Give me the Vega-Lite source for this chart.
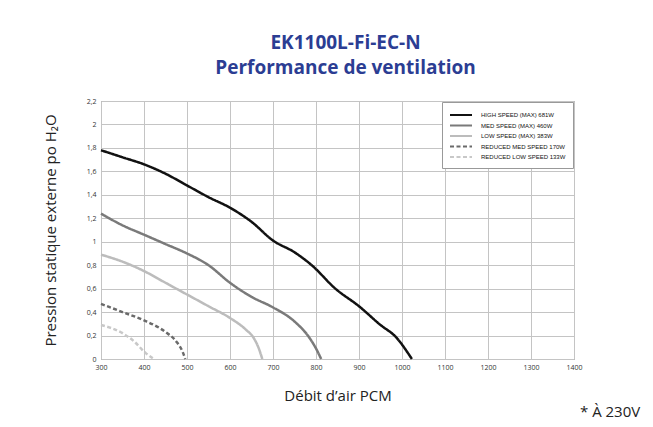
{
  "$schema": "https://vega.github.io/schema/vega-lite/v6.json",
  "width": 473,
  "height": 258,
  "autosize": {"type": "none"},
  "padding": {"left": 101, "top": 101, "right": 79, "bottom": 68},
  "background": "white",
  "title": {
    "text": ["EK1100L-Fi-EC-N", "Performance de ventilation"],
    "font": "Open Sans",
    "fontSize": 19,
    "fontWeight": "bold",
    "color": "#2b3d93",
    "anchor": "middle",
    "dx": 8,
    "offset": 19,
    "lineHeight": 25
  },
  "config": {
    "font": "Open Sans",
    "view": {"stroke": "#8a8a8a", "strokeWidth": 1},
    "axis": {"domain": false, "ticks": false, "labelFontSize": 7, "labelColor": "#333", "labelOverlap": false, "titleFont": "Open Sans", "titleFontWeight": "normal", "titleFontSize": 15, "titleColor": "#222"},
    "axisX": {
      "title": "Débit d’air PCM",
      "titlePadding": 18,
      "format": "d",
      "values": [300,350,400,450,500,550,600,650,700,750,800,850,900,950,1000,1050,1100,1150,1200,1250,1300,1350,1400],
      "labelExpr": "datum.value % 100 === 0 ? datum.label : ''",
      "labelPadding": 4,
      "labelFlush": false,
      "gridColor": {"condition": {"test": "datum.value % 100 === 0", "value": "#c4c4c4"}, "value": "#e4e4e4"}
    },
    "axisY": {
      "titlePadding": 28,
      "values": [0,0.1,0.2,0.3,0.4,0.5,0.6,0.7,0.8,0.9,1,1.1,1.2,1.3,1.4,1.5,1.6,1.7,1.8,1.9,2,2.1,2.2],
      "labelExpr": "round(datum.value*10) % 2 === 0 ? replace(format(datum.value, '.1~f'), '.', ',') : ''",
      "labelPadding": 5,
      "labelFlush": false,
      "gridColor": {"condition": {"test": "round(datum.value*10) % 2 === 0", "value": "#c4c4c4"}, "value": "#e4e4e4"}
    }
  },
  "layer": [
    {
      "data": {
        "values": [
          {"s": "HIGH SPEED (MAX) 681W", "x": 300, "y": 1.78},
          {"s": "HIGH SPEED (MAX) 681W", "x": 350, "y": 1.72},
          {"s": "HIGH SPEED (MAX) 681W", "x": 400, "y": 1.66},
          {"s": "HIGH SPEED (MAX) 681W", "x": 450, "y": 1.58},
          {"s": "HIGH SPEED (MAX) 681W", "x": 500, "y": 1.48},
          {"s": "HIGH SPEED (MAX) 681W", "x": 550, "y": 1.38},
          {"s": "HIGH SPEED (MAX) 681W", "x": 600, "y": 1.29},
          {"s": "HIGH SPEED (MAX) 681W", "x": 650, "y": 1.17},
          {"s": "HIGH SPEED (MAX) 681W", "x": 700, "y": 1.01},
          {"s": "HIGH SPEED (MAX) 681W", "x": 750, "y": 0.91},
          {"s": "HIGH SPEED (MAX) 681W", "x": 790, "y": 0.8},
          {"s": "HIGH SPEED (MAX) 681W", "x": 845, "y": 0.6},
          {"s": "HIGH SPEED (MAX) 681W", "x": 900, "y": 0.45},
          {"s": "HIGH SPEED (MAX) 681W", "x": 950, "y": 0.29},
          {"s": "HIGH SPEED (MAX) 681W", "x": 985, "y": 0.19},
          {"s": "HIGH SPEED (MAX) 681W", "x": 1023, "y": 0},
          {"s": "MED SPEED (MAX) 460W", "x": 300, "y": 1.24},
          {"s": "MED SPEED (MAX) 460W", "x": 350, "y": 1.14},
          {"s": "MED SPEED (MAX) 460W", "x": 400, "y": 1.06},
          {"s": "MED SPEED (MAX) 460W", "x": 450, "y": 0.98},
          {"s": "MED SPEED (MAX) 460W", "x": 500, "y": 0.9},
          {"s": "MED SPEED (MAX) 460W", "x": 550, "y": 0.8},
          {"s": "MED SPEED (MAX) 460W", "x": 600, "y": 0.65},
          {"s": "MED SPEED (MAX) 460W", "x": 650, "y": 0.53},
          {"s": "MED SPEED (MAX) 460W", "x": 700, "y": 0.44},
          {"s": "MED SPEED (MAX) 460W", "x": 750, "y": 0.32},
          {"s": "MED SPEED (MAX) 460W", "x": 783, "y": 0.19},
          {"s": "MED SPEED (MAX) 460W", "x": 800, "y": 0.09},
          {"s": "MED SPEED (MAX) 460W", "x": 812, "y": 0},
          {"s": "LOW SPEED (MAX) 383W", "x": 300, "y": 0.89},
          {"s": "LOW SPEED (MAX) 383W", "x": 350, "y": 0.83},
          {"s": "LOW SPEED (MAX) 383W", "x": 400, "y": 0.75},
          {"s": "LOW SPEED (MAX) 383W", "x": 450, "y": 0.65},
          {"s": "LOW SPEED (MAX) 383W", "x": 500, "y": 0.55},
          {"s": "LOW SPEED (MAX) 383W", "x": 550, "y": 0.45},
          {"s": "LOW SPEED (MAX) 383W", "x": 600, "y": 0.35},
          {"s": "LOW SPEED (MAX) 383W", "x": 637, "y": 0.25},
          {"s": "LOW SPEED (MAX) 383W", "x": 655, "y": 0.18},
          {"s": "LOW SPEED (MAX) 383W", "x": 668, "y": 0.08},
          {"s": "LOW SPEED (MAX) 383W", "x": 675, "y": 0},
          {"s": "REDUCED MED SPEED 170W", "x": 300, "y": 0.47},
          {"s": "REDUCED MED SPEED 170W", "x": 350, "y": 0.4},
          {"s": "REDUCED MED SPEED 170W", "x": 400, "y": 0.33},
          {"s": "REDUCED MED SPEED 170W", "x": 450, "y": 0.23},
          {"s": "REDUCED MED SPEED 170W", "x": 475, "y": 0.15},
          {"s": "REDUCED MED SPEED 170W", "x": 490, "y": 0.06},
          {"s": "REDUCED MED SPEED 170W", "x": 496, "y": 0},
          {"s": "REDUCED LOW SPEED 133W", "x": 300, "y": 0.29},
          {"s": "REDUCED LOW SPEED 133W", "x": 350, "y": 0.22},
          {"s": "REDUCED LOW SPEED 133W", "x": 377, "y": 0.15},
          {"s": "REDUCED LOW SPEED 133W", "x": 404, "y": 0.05},
          {"s": "REDUCED LOW SPEED 133W", "x": 423, "y": 0}
        ]
      },
      "mark": {"type": "line", "interpolate": "monotone", "strokeWidth": 2.5},
      "encoding": {
        "x": {
          "field": "x", "type": "quantitative",
          "scale": {"domain": [300, 1400], "nice": false, "zero": false},
          "axis": {"title": "Débit d’air PCM"}
        },
        "y": {
          "field": "y", "type": "quantitative",
          "scale": {"domain": [0, 2.2], "nice": false},
          "axis": {"title": "Pression statique externe po H₂O"}
        },
        "color": {
          "field": "s", "type": "nominal",
          "scale": {
            "domain": ["HIGH SPEED (MAX) 681W", "MED SPEED (MAX) 460W", "LOW SPEED (MAX) 383W", "REDUCED MED SPEED 170W", "REDUCED LOW SPEED 133W"],
            "range": ["#111111", "#7a7a7a", "#bcbcbc", "#6a6a6a", "#c8c8c8"]
          },
          "legend": {
            "title": null, "orient": "top-right", "offset": 1,
            "fillColor": "white", "strokeColor": "#999", "padding": 7,
            "symbolType": "M-2.2,0L2.2,0", "symbolSize": 100, "symbolStrokeWidth": 2, "symbolOffset": 6,
            "labelFontSize": 6, "labelFont": "Liberation Sans", "labelColor": "#111", "rowPadding": 0.5, "labelOffset": 14
          }
        },
        "strokeDash": {
          "field": "s", "type": "nominal",
          "scale": {
            "domain": ["HIGH SPEED (MAX) 681W", "MED SPEED (MAX) 460W", "LOW SPEED (MAX) 383W", "REDUCED MED SPEED 170W", "REDUCED LOW SPEED 133W"],
            "range": [[1, 0], [1, 0], [1, 0], [4, 2.5], [4, 2.5]]
          },
          "legend": {
            "title": null, "orient": "top-right", "offset": 1,
            "fillColor": "white", "strokeColor": "#999", "padding": 7,
            "symbolType": "M-2.2,0L2.2,0", "symbolSize": 100, "symbolStrokeWidth": 2, "symbolOffset": 6,
            "labelFontSize": 6, "labelFont": "Liberation Sans", "labelColor": "#111", "rowPadding": 0.5, "labelOffset": 14
          }
        }
      }
    },
    {
      "data": {"values": [{"note": "* À 230V"}]},
      "mark": {"type": "text", "align": "left", "baseline": "middle", "dx": 6, "fontSize": 15, "font": "Open Sans", "color": "#222", "clip": false},
      "encoding": {
        "x": {"datum": 1400, "type": "quantitative", "axis": {"title": "Débit d’air PCM"}},
        "y": {"datum": -0.45, "type": "quantitative", "axis": {"title": "Pression statique externe po H₂O"}},
        "text": {"field": "note"}
      }
    }
  ]
}
